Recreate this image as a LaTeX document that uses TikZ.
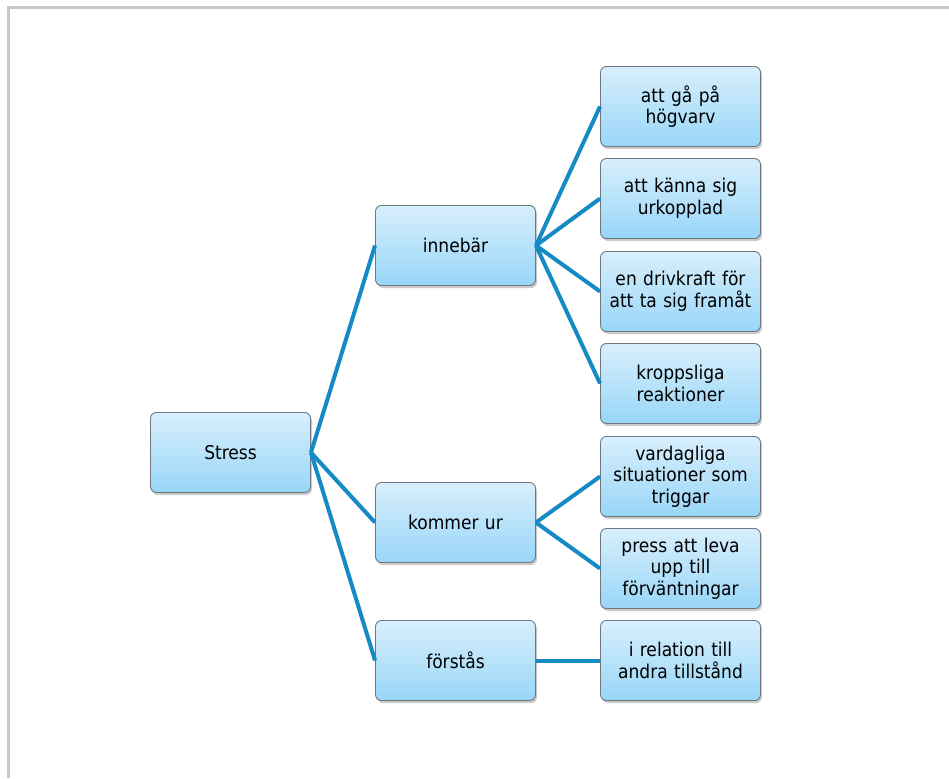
\documentclass[tikz,border=0pt]{standalone}
\usepackage{fontspec}
\setmainfont{DejaVu Sans Condensed}
\usetikzlibrary{shadows}
\definecolor{conn}{RGB}{22,138,196}
\definecolor{boxtop}{RGB}{216,239,252}
\definecolor{boxbot}{RGB}{152,214,248}
\definecolor{boxline}{RGB}{110,120,130}
\definecolor{framec}{RGB}{200,200,200}
\tikzset{
  box/.style={draw=boxline, line width=0.9pt, rounded corners=6pt,
    top color=boxtop, bottom color=boxbot,
    minimum width=160pt, minimum height=80pt, inner sep=2pt,
    align=center, text width=150pt, font=\fontsize{19}{21.5}\selectfont,
    drop shadow={shadow xshift=1.5pt, shadow yshift=-2.5pt, opacity=0.35, fill=black!60}},
  conn/.style={draw=conn, line width=4pt},
  framel/.style={draw=framec, line width=2.5pt}
}
\begin{document}
\begin{tikzpicture}[x=1pt,y=-1pt]
\useasboundingbox (0,0) rectangle (949,778);
\coordinate (f1) at (949,7.5);
\coordinate (f2) at (8.5,7.5);
\coordinate (f3) at (8.5,778);
\draw[framel] (f1) -- (f2) -- (f3);

\node[box] (stress) at (230.5,452.5) {Stress};
\node[box] (inne) at (455.5,245.5) {innebär};
\node[box] (kom) at (455.5,522.5) {kommer ur};
\node[box] (forst) at (455.5,660.5) {förstås};

\node[box] (r1) at (680.5,106.5) {att gå på\\högvarv};
\node[box] (r2) at (680.5,198.5) {att känna sig\\urkopplad};
\node[box] (r3) at (680.5,291.5) {en drivkraft för\\att ta sig framåt};
\node[box] (r4) at (680.5,383.5) {kroppsliga\\reaktioner};
\node[box] (r5) at (680.5,476.5) {vardagliga\\situationer som\\triggar};
\node[box] (r6) at (680.5,568.5) {press att leva\\upp till\\förväntningar};
\node[box] (r7) at (680.5,660.5) {i relation till\\andra tillstånd};

\begin{scope}[on background layer/.try]
\end{scope}
\draw[conn] (stress.east) -- (inne.west);
\draw[conn] (stress.east) -- (kom.west);
\draw[conn] (stress.east) -- (forst.west);
\draw[conn] (inne.east) -- (r1.west);
\draw[conn] (inne.east) -- (r2.west);
\draw[conn] (inne.east) -- (r3.west);
\draw[conn] (inne.east) -- (r4.west);
\draw[conn] (kom.east) -- (r5.west);
\draw[conn] (kom.east) -- (r6.west);
\draw[conn] (forst.east) -- (r7.west);
\end{tikzpicture}
\end{document}
